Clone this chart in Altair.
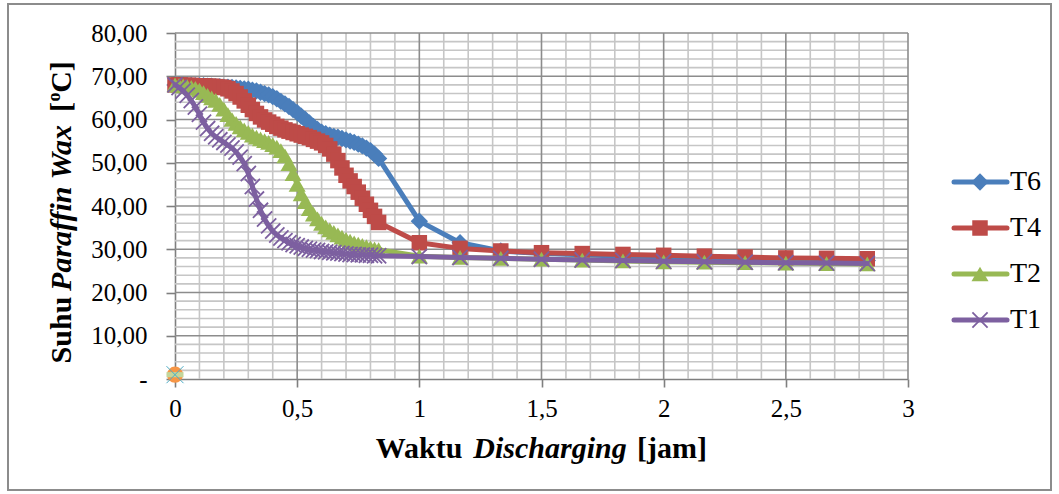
import altair as alt
import pandas as pd

# ---- data -------------------------------------------------------------
series_names = ["T6", "T4", "T2", "T1"]

# sampling instants in minutes: every minute for the first 50, then every 10 minutes
minutes = [0, 1, 2, 3, 4, 5, 6, 7, 8, 9, 10, 11, 12, 13, 14, 15, 16, 17, 18, 19,
           20, 21, 22, 23, 24, 25, 26, 27, 28, 29, 30, 31, 32, 33, 34, 35, 36, 37,
           38, 39, 40, 41, 42, 43, 44, 45, 46, 47, 48, 49, 50,
           60, 70, 80, 90, 100, 110, 120, 130, 140, 150, 160, 170]

t6 = [68.0, 68.0, 67.9, 67.9, 67.9, 67.8, 67.8, 67.8, 67.7, 67.7, 67.6,
      67.6, 67.5, 67.5, 67.4, 67.3, 67.2, 67.1, 67.0, 66.8, 66.6,
      66.3, 66.0, 65.7, 65.3, 64.8, 64.2, 63.6, 63.0, 62.3, 61.6,
      60.8, 60.0, 59.2, 58.4, 57.7, 57.1, 56.7, 56.4, 56.1, 55.9,
      55.6, 55.3, 55.0, 54.7, 54.3, 53.9, 53.4, 52.8, 52.0, 51.0,
      36.5, 31.5, 29.6, 29.0, 28.7, 28.4, 28.2, 28.0, 27.8, 27.6, 27.5, 27.4]

t4 = [68.0, 68.0, 67.9, 67.9, 67.9, 67.8, 67.8, 67.8, 67.7, 67.7, 67.6,
      67.5, 67.4, 67.1, 66.6, 66.0, 65.2, 64.3, 63.3, 62.3, 61.4,
      60.6, 59.9, 59.4, 58.9, 58.4, 58.0, 57.6, 57.3, 57.0, 56.7,
      56.4, 56.1, 55.8, 55.4, 55.0, 54.6, 54.0, 53.2, 52.0, 50.5,
      48.8, 47.1, 45.8, 44.5, 43.2, 41.8, 40.4, 39.0, 37.6, 36.2,
      31.5, 30.2, 29.6, 29.2, 29.0, 28.8, 28.6, 28.4, 28.2, 28.0, 27.9, 27.8]

t2 = [68.0, 67.9, 67.8, 67.6, 67.4, 67.2, 66.8, 66.2, 65.6, 65.0, 64.4,
      63.5, 62.4, 61.1, 60.0, 59.1, 58.3, 57.6, 57.0, 56.4, 55.9,
      55.5, 55.1, 54.7, 54.2, 53.6, 52.8, 51.6, 49.8, 47.5, 45.0,
      42.8, 41.0, 39.4, 38.1, 37.0, 36.0, 35.2, 34.5, 33.9, 33.3,
      32.8, 32.3, 31.9, 31.5, 31.2, 30.9, 30.6, 30.3, 30.1, 29.9,
      28.4, 28.1, 27.9, 27.7, 27.5, 27.3, 27.1, 27.0, 26.9, 26.8, 26.7, 26.6]

t1 = [68.0, 67.4, 66.6, 65.6, 64.4, 62.9, 61.2, 59.4, 57.9, 56.8, 56.0,
      55.3, 54.7, 54.1, 53.4, 52.5, 51.3, 49.8, 47.5, 44.5, 41.6,
      39.0, 37.0, 35.4, 34.2, 33.3, 32.6, 32.0, 31.5, 31.1, 30.8,
      30.5, 30.2, 30.0, 29.8, 29.7, 29.5, 29.4, 29.3, 29.2, 29.1,
      29.0, 28.9, 28.8, 28.8, 28.7, 28.7, 28.6, 28.6, 28.5, 28.5,
      28.3, 28.1, 27.9, 27.7, 27.5, 27.4, 27.2, 27.1, 27.0, 26.9, 26.8, 26.7]

# channels that were logged but carry no reading (single point at the origin)
spare_names = ["T3", "T5", "T7"]
spare_minutes = [0, 0, 0]
spare_values = [1.0, 1.0, 1.0]

# axis ticks and grid positions
x_major = [0, 0.5, 1, 1.5, 2, 2.5, 3]
x_minor = [0.1, 0.2, 0.3, 0.4, 0.6, 0.7, 0.8, 0.9, 1.1, 1.2, 1.3, 1.4,
           1.6, 1.7, 1.8, 1.9, 2.1, 2.2, 2.3, 2.4, 2.6, 2.7, 2.8, 2.9]
y_major = [0, 10, 20, 30, 40, 50, 60, 70, 80]
y_minor = [2, 4, 6, 8, 12, 14, 16, 18, 22, 24, 26, 28, 32, 34, 36, 38,
           42, 44, 46, 48, 52, 54, 56, 58, 62, 64, 66, 68, 72, 74, 76, 78]

# ---- tables -----------------------------------------------------------
values = {"T6": t6, "T4": t4, "T2": t2, "T1": t1}
rows = []
for name in series_names:
    for m, v in zip(minutes, values[name]):
        rows.append({"series": name, "minute": m, "jam": m / 60, "temp": v})
df = pd.DataFrame(rows)

spare_df = pd.DataFrame({"series": spare_names, "jam": [m / 60 for m in spare_minutes],
                         "temp": spare_values})

# ---- styling ----------------------------------------------------------
W, H = 733, 346
SERIF = "Liberation Serif"
palette = {"T6": "#4A7EBB", "T4": "#BE4B48", "T2": "#98B954", "T1": "#7D60A0"}
X_PATH = "M-1,-1L1,1M-1,1L1,-1"
markers = {
    "T6": dict(shape="diamond", size=300, filled=True),
    "T4": dict(shape="square", size=240, filled=True),
    "T2": dict(shape="triangle-up", size=290, filled=True),
    "T1": dict(shape=X_PATH, size=230, filled=False, strokeWidth=1.8),
}

x_scale = alt.Scale(domain=[0, 3], nice=False, zero=False)
y_scale = alt.Scale(domain=[0, 80], nice=False)

x_axis = alt.Axis(values=x_major, title=None, grid=False,
                  labelExpr="replace(format(datum.value, '~g'), '.', ',')",
                  labelFont=SERIF, labelFontSize=25, labelColor="#000000",
                  labelPadding=9, labelFlush=False, labelOverlap=False,
                  domainColor="#7F7F7F", domainWidth=1.6,
                  tickColor="#7F7F7F", tickWidth=1.6, tickSize=8)
y_axis = alt.Axis(values=y_major, title=None, grid=False,
                  labelExpr="datum.value == 0 ? '-\u00a0\u00a0' : "
                            "replace(format(datum.value, '.2f'), '.', ',')",
                  labelFont=SERIF, labelFontSize=25, labelColor="#000000",
                  labelPadding=19, labelOverlap=False,
                  domainColor="#7F7F7F", domainWidth=1.6,
                  tickColor="#7F7F7F", tickWidth=1.6, tickSize=9)

X = alt.X("jam:Q", scale=x_scale, axis=x_axis)
Y = alt.Y("temp:Q", scale=y_scale, axis=y_axis)

# ---- grid -------------------------------------------------------------
grid_minor_v = alt.Chart(pd.DataFrame({"g": x_minor})).mark_rule(
    color="#C6C6C6", strokeWidth=1.6).encode(x=alt.X("g:Q", scale=x_scale, axis=x_axis))
grid_minor_h = alt.Chart(pd.DataFrame({"g": y_minor})).mark_rule(
    color="#C6C6C6", strokeWidth=1.6).encode(y=alt.Y("g:Q", scale=y_scale, axis=y_axis))
grid_major_v = alt.Chart(pd.DataFrame({"g": x_major[1:]})).mark_rule(
    color="#8C8C8C", strokeWidth=1.6).encode(x=alt.X("g:Q", scale=x_scale, axis=x_axis))
grid_major_h = alt.Chart(pd.DataFrame({"g": y_major[1:]})).mark_rule(
    color="#8C8C8C", strokeWidth=1.6).encode(y=alt.Y("g:Q", scale=y_scale, axis=y_axis))

# ---- series -----------------------------------------------------------
series_layers = []
for name in series_names:
    base = alt.Chart(df).transform_filter(alt.datum.series == name)
    series_layers.append(
        base.mark_line(color=palette[name], strokeWidth=5,
                       strokeJoin="round", strokeCap="round")
        .encode(x=X, y=Y, order="minute:Q"))
    series_layers.append(
        base.mark_point(color=palette[name], opacity=1, **markers[name])
        .encode(x=X, y=Y))

spare_styles = [
    dict(shape="circle", size=260, filled=True, color="#F79646"),
    dict(shape="M-1,-0.3L1,-0.3L1,0.3L-1,0.3Z", size=290, filled=True, color="#C3D69B"),
    dict(shape=X_PATH, size=290, filled=False, strokeWidth=1, color="#4BACC6"),
]
spare_layers = []
for name, style in zip(spare_names, spare_styles):
    spare_layers.append(
        alt.Chart(spare_df).transform_filter(alt.datum.series == name)
        .mark_point(opacity=1, **style).encode(x=X, y=Y))

main = alt.layer(grid_minor_v, grid_minor_h, grid_major_v, grid_major_h,
                 *series_layers, *spare_layers)

# ---- legend (line + marker + label per series) -------------------------
legend_df = pd.DataFrame({"series": series_names})
LY = alt.Y("series:N", scale=alt.Scale(type="point", domain=series_names,
                                       range=[149, 287], padding=0), axis=None)
legend_layers = []
for name in series_names:
    lb = alt.Chart(legend_df).transform_filter(alt.datum.series == name)
    legend_layers.append(lb.mark_rule(color=palette[name], strokeWidth=5, strokeCap="round")
                         .encode(x=alt.value(779), x2=alt.value(832), y=LY))
    legend_layers.append(lb.mark_point(color=palette[name], opacity=1, **markers[name])
                         .encode(x=alt.value(805), y=LY))
    legend_layers.append(lb.mark_text(font=SERIF, fontSize=28, color="#000000",
                                      align="left", baseline="middle")
                         .encode(x=alt.value(835), y=LY, text="series:N"))
legend = alt.layer(*legend_layers)

# ---- axis titles with mixed upright / italic parts ----------------------
one = pd.DataFrame({"k": [0]})


def label(text, x, y, size=30, italic=False, angle=0):
    kw = dict(font=SERIF, fontSize=size, fontWeight="bold", color="#000000",
              align="center", baseline="alphabetic", angle=angle)
    if italic:
        kw["fontStyle"] = "italic"
    return alt.Chart(one).mark_text(**kw).encode(
        x=alt.value(x), y=alt.value(y), text=alt.value(text))


titles = alt.layer(
    label("Waktu", 244, 425),
    label("Discharging", 375, 425, italic=True),
    label("[jam]", 497, 425),
    label("Suhu", -104, 297, angle=270),
    label("Paraffin Wax", -104, 175, italic=True, angle=270),
    label("[", -104, 74, angle=270),
    label("o", -115, 64, size=18, angle=270),
    label("C]", -104, 44, angle=270),
)

frame = alt.Chart(one).mark_rect(filled=False, stroke="#8C8C8C", strokeWidth=2).encode(
    x=alt.value(-167), x2=alt.value(876), y=alt.value(-29), y2=alt.value(457))

chart = alt.layer(frame, main, legend, titles).resolve_scale(
    y="independent"
).properties(
    width=W, height=H,
    padding={"left": 175, "top": 33, "right": 151, "bottom": 115},
    autosize=alt.AutoSizeParams(type="none"),
    background="#FFFFFF",
).configure_view(strokeWidth=0)

chart.save("out.html", embed_options={"renderer": "svg", "actions": False})
